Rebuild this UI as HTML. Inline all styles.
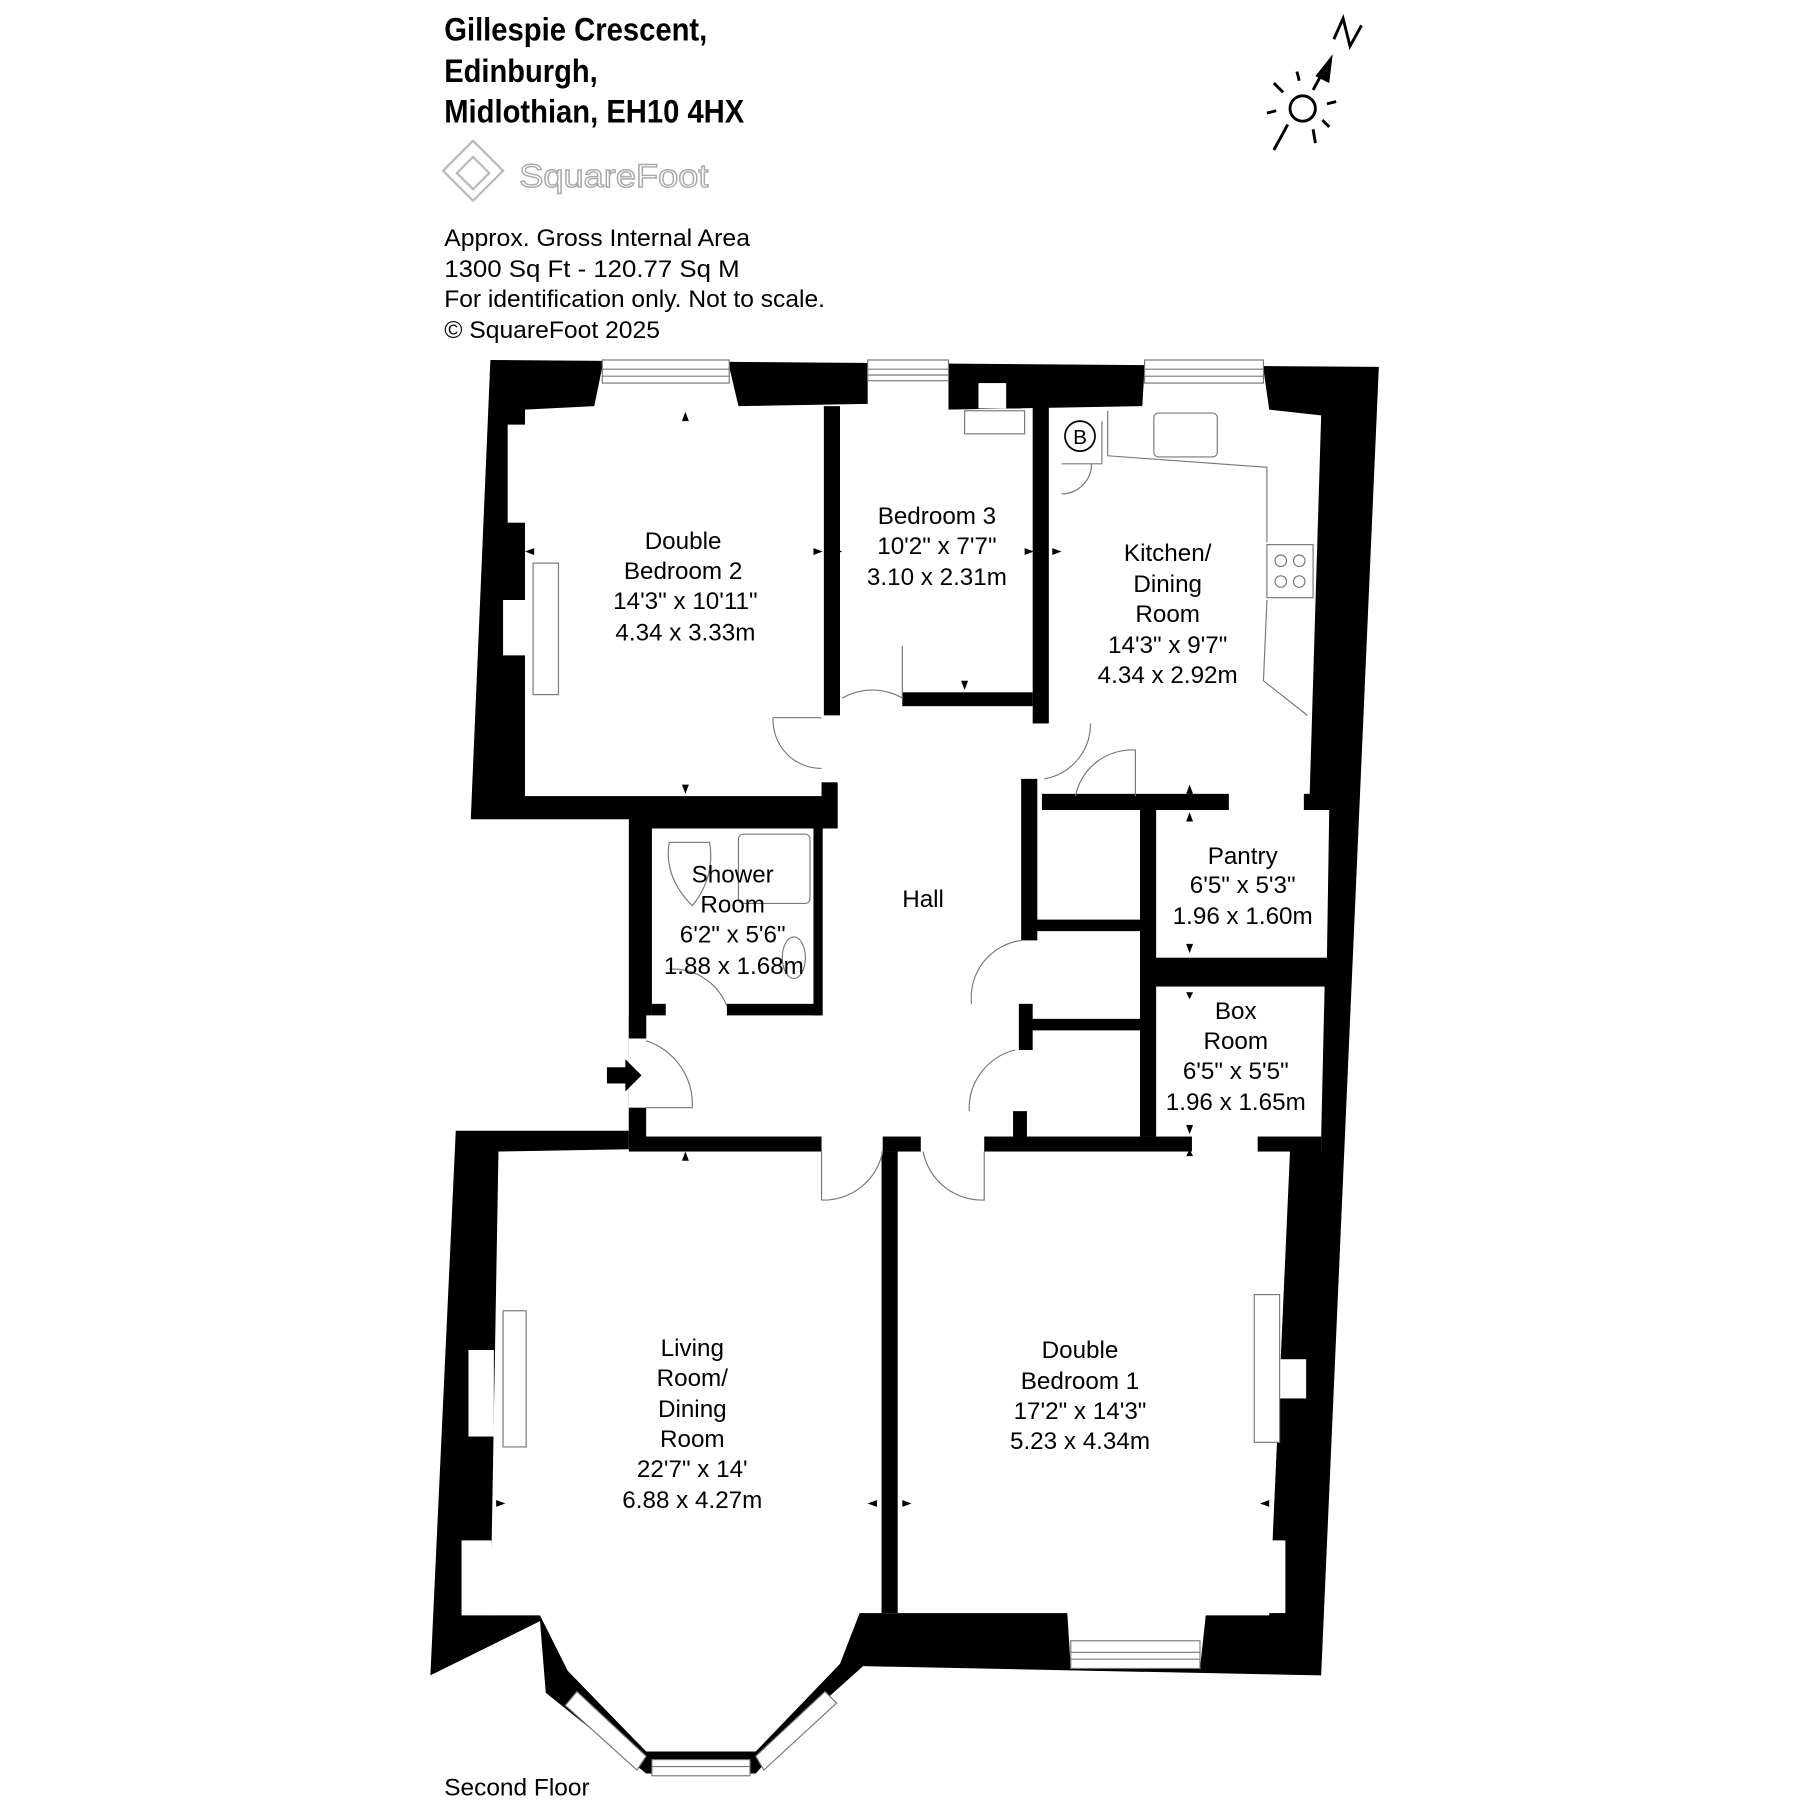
<!DOCTYPE html>
<html><head><meta charset="utf-8"><style>
html,body{margin:0;padding:0;background:#fff;}
svg{display:block;}
text{font-family:"Liberation Sans Narrow","Liberation Sans",sans-serif;}
</style></head><body>
<svg width="1800" height="1800" viewBox="0 0 1560 1560" xmlns="http://www.w3.org/2000/svg">
<rect width="1560" height="1560" fill="#fff"/>
<g font-weight="bold" font-size="28" fill="#000">
<text x="385" y="35" textLength="228" lengthAdjust="spacingAndGlyphs">Gillespie Crescent,</text>
<text x="385" y="71" textLength="133" lengthAdjust="spacingAndGlyphs">Edinburgh,</text>
<text x="385" y="106" textLength="260" lengthAdjust="spacingAndGlyphs">Midlothian, EH10 4HX</text>
</g>
<g fill="none" stroke="#bbb" stroke-width="2">
<polygon points="410,122 436,148 410,174 384,148"/>
<polygon points="410,136 424,150 410,164 396,150"/>
</g>
<text x="450" y="162" font-size="28" fill="#fff" stroke="#aaa" stroke-width="1.2" textLength="164" lengthAdjust="spacingAndGlyphs">SquareFoot</text>
<g font-size="21" fill="#000">
<text x="385" y="213" textLength="265" lengthAdjust="spacingAndGlyphs">Approx. Gross Internal Area</text>
<text x="385" y="240" textLength="256" lengthAdjust="spacingAndGlyphs">1300 Sq Ft  -  120.77 Sq M</text>
<text x="385" y="266" textLength="330" lengthAdjust="spacingAndGlyphs">For identification only. Not to scale.</text>
<text x="385" y="293" textLength="187" lengthAdjust="spacingAndGlyphs">© SquareFoot 2025</text>
<text x="385" y="1556" textLength="126" lengthAdjust="spacingAndGlyphs">Second Floor</text>
</g>
<g stroke="#000" stroke-width="2.5" fill="none">
<circle cx="1129" cy="94" r="11"/>
<line x1="1104" y1="130" x2="1116" y2="108"/><line x1="1138" y1="112" x2="1140" y2="124"/>
<line x1="1098" y1="98" x2="1106" y2="96"/><line x1="1150" y1="90" x2="1158" y2="88"/>
<line x1="1104" y1="72" x2="1112" y2="80"/><line x1="1146" y1="104" x2="1152" y2="110"/>
<line x1="1126" y1="70" x2="1124" y2="62"/>
<line x1="1138" y1="78" x2="1150" y2="56"/>
<polyline points="1156,34 1164,16 1170,40 1180,22"/>
</g>
<polygon points="1155,47 1152,72 1140,66" fill="#000"/>
<polygon fill="#000" points="425,312 1195,318 1145,1452 748,1444 700,1487 655,1537 560,1537 473,1467 468,1405 373,1452 395,980 545,980 545,710 408,710"/>
<polygon fill="#fff" points="455,355 515,352 522,318 632,318 640,352 752,350 752,318 822,318 822,355 990,352 992,318 1095,320 1100,355 1145,360 1135,690 1135,702 1152,702 1150,830 1148,855 1145,985 1145,998 1118,998 1100,1400 1045,1400 1040,1446 928,1446 925,1398 745,1398 728,1442 655,1518 560,1518 492,1448 468,1400 425,1400 432,998 545,996 545,900 560,900 560,880 565,880 565,718 720,718 720,690 455,690"/>
<rect x="825" y="330" width="60" height="24" fill="#000"/>
<rect x="848" y="332" width="24" height="22" fill="#fff"/>
<rect x="836" y="356" width="52" height="20" fill="none" stroke="#777" stroke-width="1"/>
<g fill="#000">
<rect x="714" y="352" width="14" height="268"/>
<rect x="712" y="678" width="14" height="40"/>
<rect x="782" y="600" width="113" height="12"/>
<rect x="895" y="352" width="14" height="275"/>
<rect x="885" y="675" width="14" height="140"/>
<rect x="903" y="688" width="162" height="14"/>
<rect x="1130" y="688" width="20" height="14"/>
<rect x="988" y="700" width="14" height="285"/>
<rect x="895" y="797" width="93" height="10"/>
<rect x="893" y="883" width="95" height="10"/>
<rect x="883" y="870" width="12" height="40"/>
<rect x="878" y="963" width="12" height="27"/>
<rect x="1000" y="830" width="150" height="25"/>
<rect x="545" y="985" width="167" height="13"/>
<rect x="765" y="985" width="33" height="13"/>
<rect x="853" y="985" width="180" height="13"/>
<rect x="1090" y="985" width="55" height="13"/>
<rect x="764" y="998" width="14" height="400"/>
<rect x="705" y="712" width="8" height="168"/>
<rect x="630" y="870" width="82" height="10"/>
<rect x="565" y="870" width="12" height="10"/>
<rect x="545" y="880" width="15" height="20"/>
<rect x="545" y="960" width="15" height="30"/>
</g>
<g fill="#fff" stroke="#777" stroke-width="1">
<rect x="522" y="312" width="110" height="20"/><line x1="522" y1="320" x2="632" y2="320"/><line x1="522" y1="326" x2="632" y2="326"/>
<rect x="752" y="312" width="70" height="18"/><line x1="752" y1="320" x2="822" y2="320"/><line x1="752" y1="325" x2="822" y2="325"/>
<rect x="992" y="312" width="103" height="20"/><line x1="992" y1="320" x2="1095" y2="320"/><line x1="992" y1="326" x2="1095" y2="326"/>
<rect x="928" y="1422" width="112" height="24"/><line x1="928" y1="1432" x2="1040" y2="1432"/><line x1="928" y1="1438" x2="1040" y2="1438"/>
<rect x="565" y="1525" width="85" height="14"/><line x1="565" y1="1531" x2="650" y2="1531"/>
<polygon points="490,1478 500,1466 560,1522 552,1534"/>
<polygon points="655,1522 715,1466 725,1476 662,1534"/>
<rect x="440" y="368" width="18" height="85" stroke="none"/>
<rect x="436" y="520" width="20" height="48" stroke="none"/>
<rect x="462" y="488" width="22" height="114"/>
<rect x="406" y="1170" width="22" height="75" stroke="none"/>
<rect x="400" y="1335" width="26" height="65" stroke="none"/>
<rect x="436" y="1136" width="20" height="118"/>
<rect x="1108" y="1178" width="24" height="34" stroke="none"/>
<rect x="1100" y="1335" width="14" height="63" stroke="none"/>
<rect x="1087" y="1122" width="22" height="128"/>
</g>
<g fill="none" stroke="#777" stroke-width="1">
<circle cx="936" cy="378" r="13" stroke="#000" stroke-width="1.5"/>
<path d="M920 402 L955 402 L955 365 M920 428 A26 26 0 0 0 946 402"/>
<rect x="1000" y="358" width="55" height="38" rx="4"/>
<path d="M960 356 L960 395 L1098 405 L1098 470 M1098 520 L1095 590 L1133 620"/>
<rect x="1098" y="472" width="40" height="46"/>
<circle cx="1110" cy="486" r="5"/><circle cx="1126" cy="486" r="5"/><circle cx="1110" cy="504" r="5"/><circle cx="1126" cy="504" r="5"/>
<rect x="640" y="723" width="62" height="60" rx="4"/>
<path d="M580 730 Q575 760 600 785 Q620 760 615 730 Z"/>
<ellipse cx="688" cy="830" rx="10" ry="18"/>
<path d="M670 622 L712 622 M670 622 A42 42 0 0 0 712 666"/>
<path d="M730 605 A52 52 0 0 1 782 605 M782 560 L782 605"/>
<path d="M945 627 A48 48 0 0 1 905 675"/>
<path d="M932 690 A50 50 0 0 1 984 650 L984 690"/>
<path d="M885 815 A50 50 0 0 0 842 870"/>
<path d="M880 910 A52 52 0 0 0 840 963"/>
<path d="M560 902 A58 58 0 0 1 600 960 L560 960"/>
<path d="M630 872 A50 50 0 0 0 580 840"/>
<path d="M712 998 L712 1040 A52 52 0 0 0 765 998"/>
<path d="M853 998 L853 1040 A52 52 0 0 1 800 998"/>
</g>
<polygon points="526,925 542,925 542,918 556,932 542,946 542,939 526,939" fill="#000"/>
<g fill="#000">
<polygon points="591,365 597,365 594,357"/><polygon points="591,680 597,680 594,688"/>
<polygon points="463,475 463,481 455,478"/><polygon points="705,475 705,481 713,478"/>
<polygon points="722,475 722,481 730,478"/><polygon points="888,475 888,481 896,478"/>
<polygon points="912,475 912,481 920,478"/>
<polygon points="833,590 839,590 836,598"/>
<polygon points="1028,688 1034,688 1031,680"/><polygon points="1028,712 1034,712 1031,704"/>
<polygon points="1028,818 1034,818 1031,826"/><polygon points="1028,860 1034,860 1031,866"/>
<polygon points="1028,975 1034,975 1031,983"/><polygon points="1028,1002 1034,1002 1031,996"/>
<polygon points="591,1006 597,1006 594,998"/>
<polygon points="430,1300 430,1306 438,1303"/>
<polygon points="760,1300 760,1306 752,1303"/><polygon points="782,1300 782,1306 790,1303"/>
<polygon points="1100,1300 1100,1306 1092,1303"/>
</g>
<g font-size="21" fill="#000" text-anchor="middle">
<text x="592" y="476">Double</text><text x="592" y="502">Bedroom 2</text><text x="594" y="528">14'3" x 10'11"</text><text x="594" y="555">4.34 x 3.33m</text>
<text x="812" y="454">Bedroom 3</text><text x="812" y="480">10'2" x 7'7"</text><text x="812" y="507">3.10 x 2.31m</text>
<text x="1012" y="486">Kitchen/</text><text x="1012" y="513">Dining</text><text x="1012" y="539">Room</text><text x="1012" y="566">14'3" x 9'7"</text><text x="1012" y="592">4.34 x 2.92m</text>
<text x="635" y="765">Shower</text><text x="635" y="791">Room</text><text x="635" y="817">6'2" x 5'6"</text><text x="636" y="844">1.88 x 1.68m</text>
<text x="800" y="786">Hall</text>
<text x="1077" y="749">Pantry</text><text x="1077" y="774">6'5" x 5'3"</text><text x="1077" y="801">1.96 x 1.60m</text>
<text x="1071" y="883">Box</text><text x="1071" y="909">Room</text><text x="1071" y="935">6'5" x 5'5"</text><text x="1071" y="962">1.96 x 1.65m</text>
<text x="600" y="1175">Living</text><text x="600" y="1201">Room/</text><text x="600" y="1228">Dining</text><text x="600" y="1254">Room</text><text x="600" y="1280">22'7" x 14'</text><text x="600" y="1307">6.88 x 4.27m</text>
<text x="936" y="1177">Double</text><text x="936" y="1204">Bedroom 1</text><text x="936" y="1230">17'2" x 14'3"</text><text x="936" y="1256">5.23 x 4.34m</text>
</g>
<text x="936" y="385" font-size="18" fill="#000" text-anchor="middle">B</text>
</svg>
</body></html>
